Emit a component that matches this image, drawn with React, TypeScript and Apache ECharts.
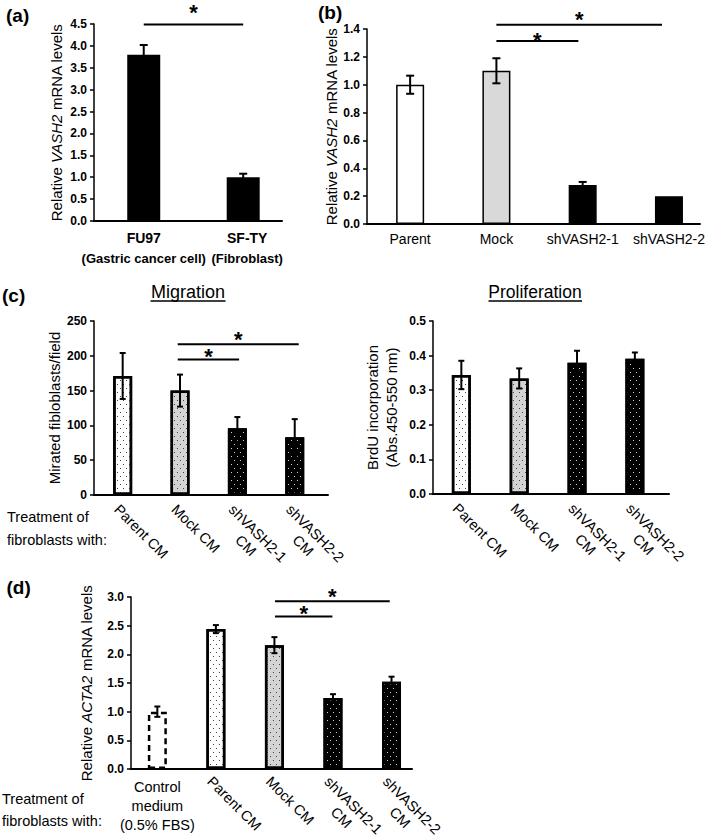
import React, { useEffect, useRef } from 'react';
import * as echarts from 'echarts';

const FONT = 'Arial, "Liberation Sans", Helvetica, sans-serif';

// ---------- data ----------
// (a)
const catsA = ['FU97', 'SF-TY'];
const subCatsA = ['(Gastric cancer cell)', '(Fibroblast)'];
const valsA = [3.8, 1.0];
const errA = [0.22, 0.08];
const yRangeA = [0, 4.5, 0.5];
const sigA = [[0, 1, 4.49]];

// (b)
const catsB = ['Parent', 'Mock', 'shVASH2-1', 'shVASH2-2'];
const valsB = [1.0, 1.1, 0.28, 0.2];
const errB = [0.065, 0.09, 0.022, 0];
const yRangeB = [0, 1.4, 0.2];
const sigB = [[1, 2.92, 1.43], [1, 1.95, 1.314]];

// (c)
const catsC = ['Parent CM', 'Mock CM', 'shVASH2-1\nCM', 'shVASH2-2\nCM'];
const migVals = [171, 150, 96, 83];
const migErr = [33, 23, 16, 26];
const yRangeMig = [0, 250, 50];
const sigMig = [[0.96, 3.07, 216.6], [0.96, 2.03, 194.7]];
const proVals = [0.344, 0.334, 0.379, 0.391];
const proErr = [0.041, 0.029, 0.035, 0.018];
const yRangePro = [0, 0.5, 0.1];

// (d)
const catsD = ['Control\nmedium\n(0.5% FBS)', 'Parent CM', 'Mock CM', 'shVASH2-1\nCM', 'shVASH2-2\nCM'];
const actaVals = [1.0, 2.44, 2.16, 1.24, 1.52];
const actaErr = [0.09, 0.07, 0.14, 0.065, 0.09];
const yRangeD = [0, 3, 0.5];
const sigD = [[2.01, 3.97, 2.925], [2.01, 2.99, 2.66]];

// ---------- styles ----------
const dotsDark = { symbol: 'rect', symbolSize: 1, color: '#444', dashArrayX: [[1, 5], [0, 3, 1, 2]], dashArrayY: [1, 3] };
const dotsLight = { symbol: 'rect', symbolSize: 1, color: '#cfcfcf', dashArrayX: [[1, 5], [0, 3, 1, 2]], dashArrayY: [1, 3] };

const fillsA = ['#000', '#000'];
const fillsB = ['#fff', '#d9d9d9', '#000', '#000'];
const fillsC = ['#fff', '#d4d4d4', '#000', '#000'];
const decalsC: any[] = [dotsDark, dotsDark, dotsLight, dotsLight];
const fillsD = ['#fff', '#fff', '#d4d4d4', '#000', '#000'];
const decalsD: any[] = [null, dotsDark, dotsDark, dotsLight, dotsLight];
const dashedD = [true, false, false, false, false];

const starOffA = [17];
const starOffB = [10, 5];
const starOffMig = [10, 8];
const starOffD = [10, 8];

function yAxis(gi: number, range: number[], digits: number, name: string, nameGap: number, extra: any = {}) {
  return {
    type: 'value', gridIndex: gi, min: range[0], max: range[1], interval: range[2],
    axisLine: { show: true, onZero: false, lineStyle: { color: '#000', width: 1.5 } },
    axisTick: { show: true, inside: false, length: 4, lineStyle: { color: '#000', width: 1.5 } },
    axisLabel: { color: '#000', fontFamily: FONT, fontWeight: 'bold', fontSize: 12, margin: 7,
      formatter: (v: number) => v.toFixed(digits) },
    splitLine: { show: false },
    name, nameLocation: 'middle', nameGap, nameRotate: 90, nameMoveOverlap: false,
    nameTextStyle: { color: '#000', fontFamily: FONT, fontSize: 15,
      rich: { i: { fontStyle: 'italic', fontSize: 15, fontFamily: FONT, color: '#000' } }, ...(extra.nameTextStyle || {}) },
  };
}

function xAxis(gi: number, range: number[], values: number[], formatter: any, label: any, showLine = true) {
  return {
    type: 'value', gridIndex: gi, min: range[0], max: range[1], position: 'bottom',
    axisLine: { show: showLine, onZero: false, lineStyle: { color: '#000', width: 2 } },
    axisTick: { show: false },
    splitLine: { show: false },
    axisLabel: { customValues: values, formatter, color: '#000', fontFamily: FONT, hideOverlap: false,
      showMinLabel: true, showMaxLabel: true, ...label },
  };
}

function bars(xi: number, yi: number, vals: number[], fills: string[], width: number, bw: number, decals?: any[], dashed?: boolean[]) {
  return {
    type: 'bar', xAxisIndex: xi, yAxisIndex: yi, barWidth: width, z: 2,
    data: vals.map((v, i) => ({
      value: [i, v],
      itemStyle: {
        color: fills[i], borderColor: '#000', borderWidth: bw,
        borderType: dashed && dashed[i] ? [6, 4] : 'solid',
        decal: decals && decals[i] ? decals[i] : undefined,
      },
    })),
  };
}

function errors(xi: number, yi: number, vals: number[], errs: number[], cap: number, lw: number) {
  return {
    type: 'custom', xAxisIndex: xi, yAxisIndex: yi, clip: false, z: 5,
    data: vals.map((v, i) => [i, v, errs[i]]),
    renderItem: (_p: any, api: any) => {
      const x = api.value(0), v = api.value(1), e = api.value(2);
      if (!e) return { type: 'group', children: [] };
      const t = api.coord([x, v + e]);
      const b = api.coord([x, v - e]);
      const st = { stroke: '#000', lineWidth: lw };
      return {
        type: 'group', children: [
          { type: 'line', shape: { x1: t[0], y1: t[1], x2: b[0], y2: b[1] }, style: st },
          { type: 'line', shape: { x1: t[0] - cap / 2, y1: t[1], x2: t[0] + cap / 2, y2: t[1] }, style: st },
          { type: 'line', shape: { x1: b[0] - cap / 2, y1: b[1], x2: b[0] + cap / 2, y2: b[1] }, style: st },
        ],
      };
    },
  };
}

function sig(xi: number, yi: number, sigs: number[][], offs: number[]) {
  return {
    type: 'custom', xAxisIndex: xi, yAxisIndex: yi, clip: false, z: 6,
    data: sigs,
    renderItem: (p: any, api: any) => {
      const a = api.coord([api.value(0), api.value(2)]);
      const b = api.coord([api.value(1), api.value(2)]);
      const off = offs[p.dataIndex];
      return {
        type: 'group', children: [
          { type: 'line', shape: { x1: a[0], y1: a[1], x2: b[0], y2: b[1] }, style: { stroke: '#000', lineWidth: 2 } },
          { type: 'text', x: (a[0] + b[0]) / 2, y: a[1] - off + 5,
            style: { text: '*', fill: '#000', fontSize: 22, fontWeight: 'bold', fontFamily: FONT, align: 'center', verticalAlign: 'middle' } },
        ],
      };
    },
  };
}

const rotFormatter = (cats: string[]) => (v: number) => {
  const s = cats[Math.round(v)];
  const parts = s.split('\n');
  return parts.length > 1 ? `{l|${parts[0]}}\n{c|${parts[1]}}` : `{l|${s}}`;
};
const rotRich = {
  l: { fontSize: 14.5, fontFamily: FONT, color: '#000', lineHeight: 17 },
  c: { fontSize: 14.5, fontFamily: FONT, color: '#000', lineHeight: 17, align: 'center' },
};

const richA = {
  b: { fontWeight: 'bold', fontSize: 14, lineHeight: 20, fontFamily: FONT, color: '#000' },
  s: { fontWeight: 'bold', fontSize: 13, lineHeight: 20, fontFamily: FONT, color: '#000' },
};
const fmtA = (v: number) => `{b|${catsA[Math.round(v)]}}\n{s|${subCatsA[Math.round(v)]}}`;

function txt(x: number, y: number, text: string, size: number, bold = false, align = 'left') {
  return { type: 'text', x, y, style: { text, fill: '#000', fontSize: size, fontWeight: bold ? 'bold' : 'normal', fontFamily: FONT, align, verticalAlign: 'middle' } };
}

function buildOption(): any {
  const gridBase = { containLabel: false, outerBoundsMode: 'none' };
  return {
    animation: false,
    backgroundColor: '#fff',
    textStyle: { fontFamily: FONT },
    grid: [
      { ...gridBase, left: 94, top: 24, width: 188, height: 197 },
      { ...gridBase, left: 367, top: 29, width: 333, height: 195 },
      { ...gridBase, left: 94, top: 321, width: 234, height: 174 },
      { ...gridBase, left: 433, top: 321, width: 236, height: 173 },
      { ...gridBase, left: 131, top: 597, width: 281, height: 172 },
    ],
    xAxis: [
      xAxis(0, [-0.5, 1.39], [0], fmtA, { margin: 7, rich: richA }),
      xAxis(1, [-0.5, 3.36], [0, 1, 2, 3], (v: number) => catsB[Math.round(v)], { fontSize: 14, margin: 8 }),
      xAxis(2, [-0.5, 3.58], [0, 1, 2, 3], rotFormatter(catsC), { rotate: -45, align: 'left', verticalAlign: 'top', margin: 6, rich: rotRich }),
      xAxis(3, [-0.49, 3.59], [0, 1, 2, 3], rotFormatter(catsC), { rotate: -45, align: 'left', verticalAlign: 'top', margin: 6, rich: rotRich }),
      xAxis(4, [-0.45, 4.35], [1, 2, 3, 4], rotFormatter(catsD), { rotate: -45, align: 'left', verticalAlign: 'top', margin: 4, rich: rotRich }),
      xAxis(4, [-0.45, 4.35], [0], (v: number) => catsD[Math.round(v)], { fontSize: 14.5, lineHeight: 19.3, align: 'center', verticalAlign: 'top', margin: 8 }, false),
      xAxis(0, [-0.5, 1.39], [1], fmtA, { margin: 7, rich: richA, padding: [0, 0, 0, 8] }, false),
    ],
    yAxis: [
      yAxis(0, yRangeA, 1, 'Relative {i|VASH2} mRNA levels', 30),
      yAxis(1, yRangeB, 1, 'Relative {i|VASH2} mRNA levels', 28),
      yAxis(2, yRangeMig, 0, 'Mirated fibloblasts/field', 32),
      yAxis(3, yRangePro, 1, 'BrdU incorporation\n(Abs.450-550 nm)', 32, { nameTextStyle: { lineHeight: 19 } }),
      yAxis(4, yRangeD, 1, 'Relative {i|ACTA2} mRNA levels', 37),
    ],
    series: [
      bars(0, 0, valsA, fillsA, 33, 0),
      errors(0, 0, valsA, errA, 8, 2),
      sig(0, 0, sigA, starOffA),

      bars(1, 1, valsB, fillsB, 28, 1.5),
      errors(1, 1, valsB, errB, 8, 2),
      sig(1, 1, sigB, starOffB),

      bars(2, 2, migVals, fillsC, 19, 2.5, decalsC),
      errors(2, 2, migVals, migErr, 6, 2),
      sig(2, 2, sigMig, starOffMig),

      bars(3, 3, proVals, fillsC, 19, 2.5, decalsC),
      errors(3, 3, proVals, proErr, 6, 2),

      bars(4, 4, actaVals, fillsD, 19, 2.5, decalsD, dashedD),
      errors(4, 4, actaVals, actaErr, 6, 2),
      sig(4, 4, sigD, starOffD),
    ],
    graphic: [
      txt(6, 15, '(a)', 19, true),
      txt(318, 12.5, '(b)', 19, true),
      txt(2, 295, '(c)', 19, true),
      txt(6.5, 587.5, '(d)', 19, true),
      txt(188, 292, 'Migration', 18, false, 'center'),
      { type: 'line', shape: { x1: 150.5, y1: 301, x2: 225.5, y2: 301 }, style: { stroke: '#000', lineWidth: 1.5 } },
      txt(535, 292, 'Proliferation', 17.5, false, 'center'),
      { type: 'line', shape: { x1: 488.5, y1: 301, x2: 582, y2: 301 }, style: { stroke: '#000', lineWidth: 1.5 } },
      txt(7, 516.7, 'Treatment of', 14.5),
      txt(7, 540, 'fibroblasts with:', 14.5),
      txt(2, 799, 'Treatment of', 14.5),
      txt(2, 820.7, 'fibroblasts with:', 14.5),
    ],
  };
}

export default function App() {
  const ref = useRef<HTMLDivElement>(null);
  useEffect(() => {
    if (!ref.current) return;
    const chart = echarts.init(ref.current, undefined, { renderer: 'svg' });
    chart.setOption(buildOption());
    return () => chart.dispose();
  }, []);
  return <div ref={ref} style={{ position: 'absolute', left: 0, top: 0, width: 709, height: 838, background: '#fff' }} />;
}
